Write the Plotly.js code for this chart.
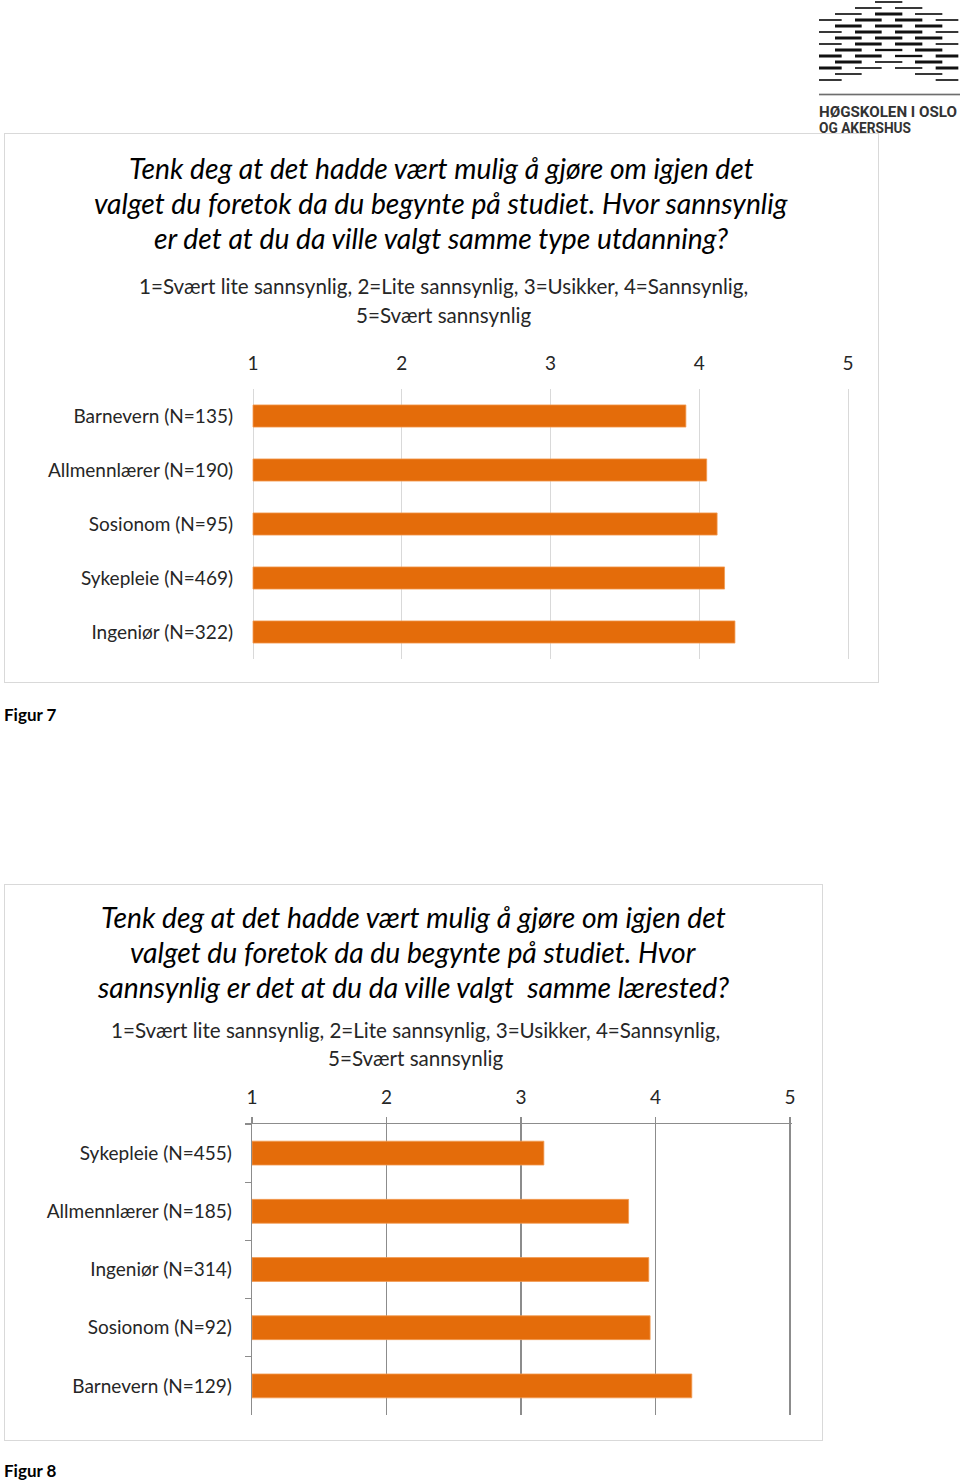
<!DOCTYPE html>
<html><head><meta charset="utf-8">
<script src="https://cdn.plot.ly/plotly-3.0.1.min.js"></script>
<style>
html,body{margin:0;padding:0;background:#fff}
body{width:960px;height:1481px;position:relative;overflow:hidden}
.plot{position:absolute;outline:1px solid #d9d9d9;outline-offset:-1px}
.cap{position:absolute;font-family:Lato,"Open Sans",sans-serif;font-weight:bold;font-size:17px;color:#000}
#logo{position:absolute;left:815px;top:0px}
</style></head><body>
<svg id="logo" width="145" height="140" viewBox="0 0 435 420"></svg>
<div class="plot" id="c1" style="left:4px;top:133px;width:875px;height:550px"></div>
<div class="cap" style="left:4px;top:704px">Figur 7</div>
<div class="plot" id="c2" style="left:4px;top:884px;width:819px;height:557px"></div>
<div class="cap" style="left:4px;top:1460px">Figur 8</div>
<script>
// ---- data ----
const cats1 = ['Barnevern (N=135)','Allmennlærer (N=190)','Sosionom (N=95)','Sykepleie (N=469)','Ingeniør (N=322)'];
const vals1 = [3.91, 4.05, 4.12, 4.17, 4.24];
const cats2 = ['Sykepleie (N=455)','Allmennlærer (N=185)','Ingeniør (N=314)','Sosionom (N=92)','Barnevern (N=129)'];
const vals2 = [3.17, 3.80, 3.95, 3.96, 4.27];
const tickVals = [1, 2, 3, 4, 5];
const title1 = ['Tenk deg at det hadde vært mulig å gjøre om igjen det',
                'valget du foretok da du begynte på studiet. Hvor sannsynlig',
                'er det at du da ville valgt samme type utdanning?'];
const title2 = ['Tenk deg at det hadde vært mulig å gjøre om igjen det',
                'valget du foretok da du begynte på studiet. Hvor',
                'sannsynlig er det at du da ville valgt\u00a0 samme lærested?'];
const scaleText = ['1=Svært lite sannsynlig, 2=Lite sannsynlig, 3=Usikker, 4=Sannsynlig,',
                   '5=Svært sannsynlig'];

// ---- logo (decoration) ----
(function(){
  const svg = document.getElementById('logo');
  const A=[12,80], B=[60,140], C=[120,200], D=[180,262], E=[240,322], F=[300,382], G=[362,430];
  const th=9, tn=5, tm=7;
  const rows = [
    [6,[[D,tn]]],
    [24,[[C,tn],[E,tn]]],
    [42,[[B,tn],[D,th],[F,tn]]],
    [60,[[A,tn],[C,th],[E,th],[G,tn]]],
    [78,[[B,th],[D,th],[F,th]]],
    [96,[[A,tn],[C,th],[E,th],[G,tn]]],
    [114,[[B,th],[D,th],[F,th]]],
    [132,[[A,tn],[C,th],[E,th],[G,tn]]],
    [150,[[B,th],[D,tm],[F,th]]],
    [168,[[A,th],[C,th],[E,tm],[G,th]]],
    [186,[[B,th],[D,tn],[F,th]]],
    [204,[[A,th],[C,tn],[E,tn],[G,th]]],
    [222,[[B,tn],[F,tn]]],
    [240,[[A,tn],[G,tn]]]
  ];
  let s = '';
  rows.forEach(([y,segs])=>segs.forEach(([[a,b],t])=>{
    s += `<rect x="${a}" y="${y-t/2}" width="${b-a}" height="${t}" fill="#111"/>`;
  }));
  s += `<rect x="12" y="281" width="423" height="5" fill="#6e6e6e"/>`;
  s += `<text x="12" y="350" font-family="Roboto, DejaVu Sans, sans-serif" font-weight="700" font-size="45" fill="#333" textLength="414" lengthAdjust="spacingAndGlyphs">HØGSKOLEN I OSLO</text>`;
  s += `<text x="12" y="399" font-family="Roboto, DejaVu Sans, sans-serif" font-weight="700" font-size="45" fill="#333" textLength="276" lengthAdjust="spacingAndGlyphs">OG AKERSHUS</text>`;
  svg.innerHTML = s;
})();

const FONT = 'Lato, "Open Sans", sans-serif';
const BAR = '#E46C0A';

function draw(id, cats, vals, titleLines, box, dims, titleY, titleX, subY, subX, framed){
  // box.L / box.R: page pixel of value 1 / value 5
  const unit = (box.R - box.L) / 4;
  const padL = framed ? 0 : 2, padR = 2;          // px so edge gridlines are kept
  const pL = box.L - padL, pR = box.R + padR;      // plot area edges
  const xr = [1 - padL/unit, 5 + padR/unit];
  const toPaperX = px => (px - pL)/(pR - pL);
  const toPaperY = py => (box.B - py)/(box.B - box.T);
  const titleFont = {family:FONT, size:28.3, color:'#000'};
  const subFont = {family:FONT, size:20.6, color:'#262626'};
  const anns = titleLines.map((t,i)=>({text:'<i>'+t+'</i>', showarrow:false, xref:'paper', yref:'paper',
      x: toPaperX(titleX), y: toPaperY(titleY[i]), xanchor:'center', yanchor:'middle', font:titleFont}))
    .concat(scaleText.map((t,i)=>({text:t, showarrow:false, xref:'paper', yref:'paper',
      x: toPaperX(subX), y: toPaperY(subY[i]), xanchor:'center', yanchor:'middle', font:subFont})));
  const axisGray = framed ? '#8c8c8c' : '#d9d9d9';
  const lw = framed ? 1.3 : 1;
  const layout = {
    width: dims.w, height: dims.h,
    margin: {l: pL - box.left, r: box.left + dims.w - pR, t: box.T - box.top, b: box.top + dims.h - box.B, pad:0},
    paper_bgcolor:'rgba(0,0,0,0)', plot_bgcolor:'rgba(0,0,0,0)',
    showlegend:false,
    bargap: 0.59,
    font: {family: FONT, color:'#262626'},
    xaxis: {
      side:'top', range: xr, tickvals: tickVals, ticktext: tickVals.map(String),
      showgrid:true, gridcolor: axisGray, gridwidth: lw,
      zeroline:false, showline: framed, linecolor: axisGray, linewidth: lw,
      ticks: framed ? 'outside' : '', ticklen: 6, tickcolor: axisGray, tickwidth: lw,
      tickfont:{family:FONT, size:19, color:'#262626'},
      ticklabelstandoff: framed ? 5 : 14, fixedrange:true
    },
    yaxis: {
      type:'category', autorange:'reversed', showgrid:false, zeroline:false,
      showline: framed, linecolor: axisGray, linewidth: lw,
      ticks: framed ? 'outside':'', tickson: 'boundaries', ticklen: 6, tickcolor: axisGray, tickwidth: lw,
      tickfont:{family:FONT, size:19, color:'#262626'},
      ticklabelstandoff: framed ? 15 : (19 - padL), fixedrange:true
    },
    annotations: anns
  };
  const trace = {
    type:'bar', orientation:'h', y: cats, base: 1, x: vals.map(v => v - 1),
    marker:{color: BAR, line:{color:'#F29A52', width:0.8}},
    hoverinfo:'none'
  };
  Plotly.newPlot(id, [trace], layout, {staticPlot:true, displayModeBar:false});
}

draw('c1', cats1, vals1, title1,
  {left:4, top:133, L:253, R:848, T:389, B:659}, {w:875, h:550},
  [168,203,238], 441, [286,315], 443, false);
draw('c2', cats2, vals2, title2,
  {left:4, top:884, L:252, R:790, T:1124, B:1415}, {w:819, h:557},
  [917,952,987], 413, [1030,1058], 415, true);
</script>
</body></html>
